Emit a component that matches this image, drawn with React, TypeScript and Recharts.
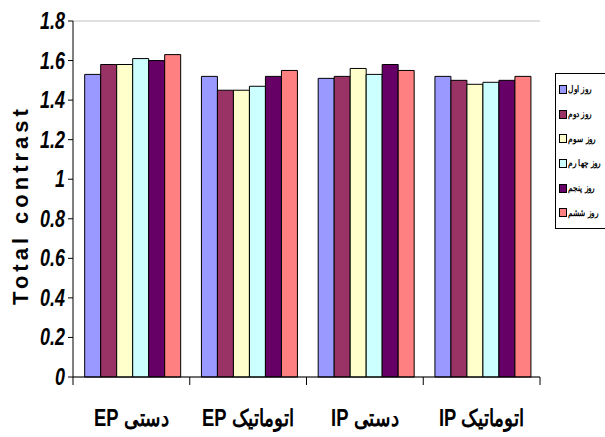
import React from "react";
import {
  BarChart,
  Bar,
  XAxis,
  YAxis,
  CartesianGrid,
} from "recharts";

const groups = ["دستی EP", "اتوماتیک EP", "دستی IP", "اتوماتیک IP"];
const day1 = [1.53, 1.52, 1.51, 1.52];
const day2 = [1.58, 1.45, 1.52, 1.5];
const day3 = [1.58, 1.45, 1.56, 1.48];
const day4 = [1.61, 1.47, 1.53, 1.49];
const day5 = [1.6, 1.52, 1.58, 1.5];
const day6 = [1.63, 1.55, 1.55, 1.52];
const seriesNames = ["روز اول", "روز دوم", "روز سوم", "روز چها رم", "روز پنجم", "روز ششم"];
const seriesColors = ["#9999FF", "#993366", "#FFFFCC", "#CCFFFF", "#660066", "#FF8080"];
const yTicks = [0, 0.2, 0.4, 0.6, 0.8, 1, 1.2, 1.4, 1.6, 1.8];

const allSeries = [day1, day2, day3, day4, day5, day6];
const data = groups.map((g, i) => {
  const row: Record<string, string | number> = { name: g };
  allSeries.forEach((s, k) => {
    row["s" + k] = s[i];
  });
  return row;
});

const FONT = "'Liberation Sans', Arial, sans-serif";

function XTick(props: any) {
  const { x, y, payload, index, width, visibleTicksCount } = props;
  const band = width / visibleTicksCount;
  const left = x - band / 2;
  return (
    <g>
      <line x1={left} y1={y - 8} x2={left} y2={y} stroke="#000" />
      {index === visibleTicksCount - 1 && (
        <line x1={left + band} y1={y - 8} x2={left + band} y2={y} stroke="#000" />
      )}
      <text
        transform={`translate(${x}, ${y + 41}) scale(0.8, 1)`}
        x={0}
        y={0}
        textAnchor="middle"
        direction="rtl"
        fontFamily={FONT}
        fontWeight="bold"
        fontSize={23}
        fill="#000"
      >
        {payload.value}
      </text>
    </g>
  );
}

function YTick(props: any) {
  const { x, y, payload } = props;
  return (
    <text
      transform={`translate(${x - 1}, ${y + 8}) scale(0.78, 1)`}
      x={0}
      y={0}
      textAnchor="end"
      fontFamily={FONT}
      fontWeight="bold"
      fontStyle="italic"
      fontSize={23}
      fill="#000"
    >
      {String(payload.value)}
    </text>
  );
}

function LegendBox() {
  return (
    <div
      style={{
        position: "absolute",
        left: 555,
        top: 73,
        border: "1px solid #000",
        background: "#fff",
        padding: "3px 6px 3px 3px",
        width: 60,
      }}
    >
      {seriesNames.map((n, i) => (
        <div
          key={n}
          style={{
            display: "flex",
            alignItems: "center",
            height: 24.7,
            whiteSpace: "nowrap",
          }}
        >
          <span
            style={{
              display: "inline-block",
              width: 6,
              height: 7,
              background: seriesColors[i],
              border: "1px solid #000",
              marginRight: 1,
              flexShrink: 0,
            }}
          />
          <span
            dir="rtl"
            style={{
              display: "inline-block",
              fontFamily: FONT,
              fontWeight: "bold",
              fontSize: 8.5,
              color: "#000",
              transform: "scaleX(0.82)",
              transformOrigin: "left center",
            }}
          >
            {n}
          </span>
        </div>
      ))}
    </div>
  );
}

export default function App() {
  return (
    <div style={{ position: "absolute", left: 0, top: 0, width: 605, height: 437, background: "#fff", overflow: "hidden" }}>
      <BarChart
        width={605}
        height={437}
        data={data}
        margin={{ top: 21, right: 65, bottom: 0, left: 13 }}
        barCategoryGap="10%"
        barGap={0}
      >
        <CartesianGrid horizontal stroke="#c0c0c0" vertical={false} />
        <XAxis
          dataKey="name"
          height={60}
          axisLine={{ stroke: "#000" }}
          tickLine={false}
          tick={<XTick />}
          interval={0}
        />
        <YAxis
          yAxisId="l"
          width={60}
          domain={[0, 1.8]}
          ticks={yTicks}
          interval={0}
          axisLine={{ stroke: "#000" }}
          tickLine={{ stroke: "#000" }}
          tickSize={5}
          tick={<YTick />}
        />
        <YAxis
          yAxisId="r"
          orientation="right"
          width={0}
          domain={[0, 1.8]}
          ticks={yTicks}
          axisLine={{ stroke: "#a0a0a0" }}
          tick={false}
          tickLine={false}
        />
        {seriesNames.map((n, i) => (
          <Bar
            key={n}
            yAxisId="l"
            dataKey={"s" + i}
            name={n}
            fill={seriesColors[i]}
            stroke="#000"
            strokeWidth={1}
            isAnimationActive={false}
          />
        ))}
      </BarChart>
      <svg
        width={605}
        height={437}
        style={{ position: "absolute", left: 0, top: 0, pointerEvents: "none" }}
      >
        <text
          x={0}
          y={0}
          transform="translate(28, 205) rotate(-90)"
          textAnchor="middle"
          fontFamily={FONT}
          fontWeight="bold"
          fontSize={22}
          letterSpacing={4}
          fill="#000"
        >
          Total contrast
        </text>
      </svg>
      <LegendBox />
    </div>
  );
}
